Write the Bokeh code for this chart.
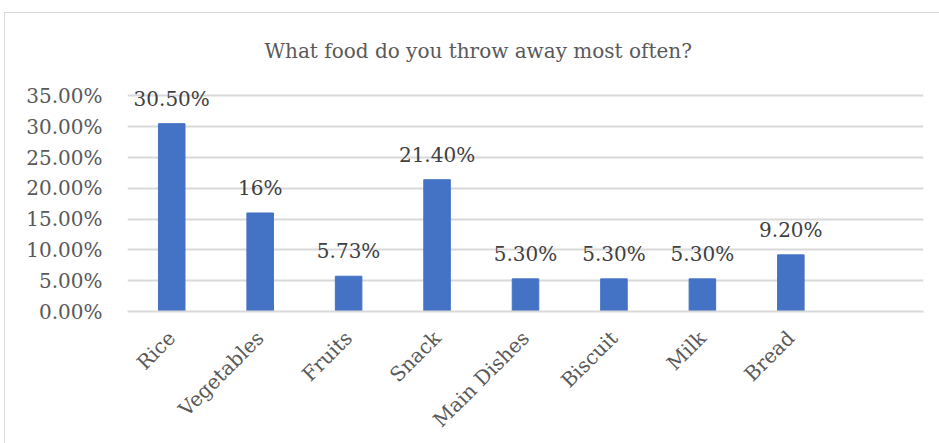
import math
from bokeh.plotting import figure
from bokeh.models import ColumnDataSource, FactorRange, Range1d, NumeralTickFormatter, FixedTicker, Title
from bokeh.embed import file_html
from bokeh.resources import INLINE
from bokeh.core.properties import value

categories = ["Rice", "Vegetables", "Fruits", "Snack", "Main Dishes", "Biscuit", "Milk", "Bread"]
shares = [0.305, 0.16, 0.0573, 0.214, 0.053, 0.053, 0.053, 0.092]
share_labels = ["30.50%", "16%", "5.73%", "21.40%", "5.30%", "5.30%", "5.30%", "9.20%"]
y_ticks = [0.0, 0.05, 0.10, 0.15, 0.20, 0.25, 0.30, 0.35]
title_text = "What food do you throw away most often?"

FONT = "DejaVu Serif"
TXT = "#595959"
GRID = "#d9d9d9"

factors = categories + [" "]
src = ColumnDataSource(dict(cat=categories, val=shares, lab=share_labels))

p = figure(width=935, height=431, x_range=FactorRange(*factors, range_padding=0),
           y_range=Range1d(0, 0.38), output_backend="svg", toolbar_location=None,
           min_border_left=122, min_border_right=17, min_border_top=64, min_border_bottom=133)
p.margin = (12, 0, 0, 4)
p.styles = {"border-left": "1px solid #d9d9d9", "border-top": "1px solid #d9d9d9"}
p.outline_line_color = None
p.background_fill_color = "white"
p.border_fill_color = "white"

p.title = Title(text=title_text, align="left", offset=137, standoff=30,
                text_font=FONT, text_font_size="20px", text_font_style="normal", text_color=TXT)

p.vbar(x="cat", top="val", width=0.30, source=src, fill_color="#4472C4", line_color="#4472C4")
p.text(x="cat", y="val", text="lab", source=src, text_align="center", text_baseline="bottom",
       y_offset=-13, text_font=value(FONT), text_font_size="20px", text_color="#404040")

p.yaxis.ticker = FixedTicker(ticks=y_ticks)
p.yaxis.formatter = NumeralTickFormatter(format="0.00%")
p.yaxis.axis_line_color = None
p.yaxis.major_tick_line_color = None
p.yaxis.minor_tick_line_color = None
p.yaxis.major_label_standoff = 19
p.yaxis.major_label_text_font = FONT
p.yaxis.major_label_text_font_size = "20px"
p.yaxis.major_label_text_color = TXT

p.xaxis.axis_line_color = GRID
p.xaxis.axis_line_width = 2
p.xaxis.major_tick_line_color = None
p.xaxis.minor_tick_line_color = None
p.xaxis.major_label_orientation = math.pi / 4
p.xaxis.major_label_standoff = 17
p.xaxis.major_label_text_font = FONT
p.xaxis.major_label_text_font_size = "20px"
p.xaxis.major_label_text_color = TXT

p.xgrid.grid_line_color = None
p.ygrid.grid_line_color = GRID
p.ygrid.grid_line_width = 2

open("out.html", "w").write(file_html(p, INLINE))
